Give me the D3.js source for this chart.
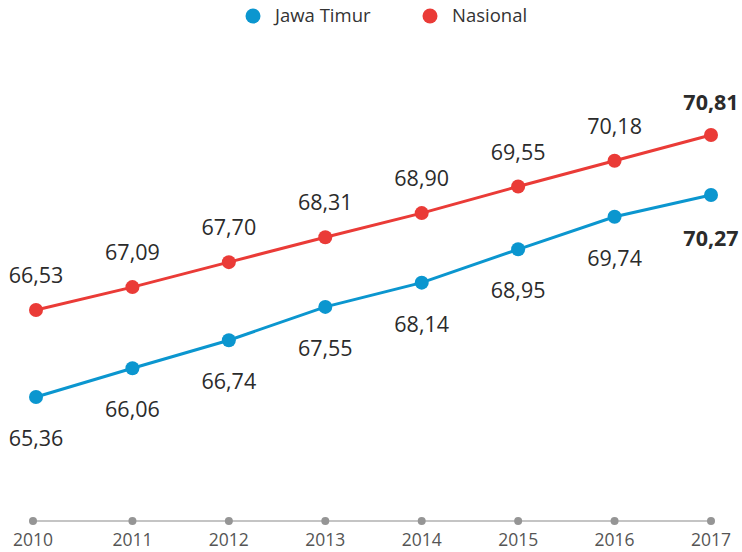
<!DOCTYPE html>
<html><head><meta charset="utf-8">
<script src="https://cdn.jsdelivr.net/npm/d3@7"></script>
<style>html,body{margin:0;padding:0;background:#fff;}svg{display:block;font-family:"Open Sans","Noto Sans",sans-serif;}</style>
</head><body><svg id="c" width="742" height="552"></svg>
<script>
const years = ["2010","2011","2012","2013","2014","2015","2016","2017"];
const jawaTimur = [65.36,66.06,66.74,67.55,68.14,68.95,69.74,70.27];
const nasional = [66.53,67.09,67.70,68.31,68.90,69.55,70.18,70.81];
const seriesNames = ["Jawa Timur","Nasional"];
const colors = ["#0b96cf","#ea3b37"];

const svg = d3.select("#c");
const x = d3.scalePoint().domain(years).range([36,711]);
// each series drawn on its own offset band, same slope
const yJT = d3.scaleLinear().domain([65.36,70.27]).range([397,195]);
const yNA = d3.scaleLinear().domain([66.53,70.81]).range([310,135]);
const fmt = v => d3.format(".2f")(v).replace(".",",");

// axis
svg.append("line").attr("x1",33).attr("x2",711).attr("y1",521).attr("y2",521)
  .attr("stroke","#c4c4c4").attr("stroke-width",2);
svg.selectAll(".tk").data(years).enter().append("circle")
  .attr("cx",d=>x(d)-(d==="2010"?3:0)).attr("cy",521).attr("r",4).attr("fill","#959595");
svg.selectAll(".tl").data(years).enter().append("text")
  .attr("x",d=>x(d)-(d==="2010"?3:0)).attr("y",546).attr("text-anchor","middle")
  .attr("font-size",17.5).attr("fill","#555").text(d=>d);

function draw(vals, y, color, above){
  const pts = vals.map((v,i)=>({yr:years[i],v}));
  const n = pts.length-1;
  svg.append("path").datum(pts)
    .attr("d",d3.line().x(d=>x(d.yr)).y(d=>y(d.v)))
    .attr("fill","none").attr("stroke",color).attr("stroke-width",3);
  svg.selectAll(null).data(pts).enter().append("circle")
    .attr("cx",d=>x(d.yr)).attr("cy",d=>y(d.v)).attr("r",7).attr("fill",color);
  svg.selectAll(null).data(pts).enter().append("text")
    .attr("x",d=>x(d.yr)).attr("y",(d,i)=>y(d.v)+(above?(i===n?-25:-27):(i===n?51:49)))
    .attr("text-anchor","middle").attr("font-size",21.5).attr("fill","#2b2b2b")
    .attr("font-weight",(d,i)=>i===n?"bold":"normal")
    .text(d=>fmt(d.v));
}
draw(nasional,yNA,colors[1],true);
draw(jawaTimur,yJT,colors[0],false);

// legend
const lg = [{n:seriesNames[0],c:colors[0],x:253},{n:seriesNames[1],c:colors[1],x:430}];
lg.forEach(l=>{
  svg.append("circle").attr("cx",l.x).attr("cy",16).attr("r",7.5).attr("fill",l.c);
  svg.append("text").attr("x",l.x+22).attr("y",22).attr("font-size",18.5).attr("fill","#333").text(l.n);
});
</script></body></html>
